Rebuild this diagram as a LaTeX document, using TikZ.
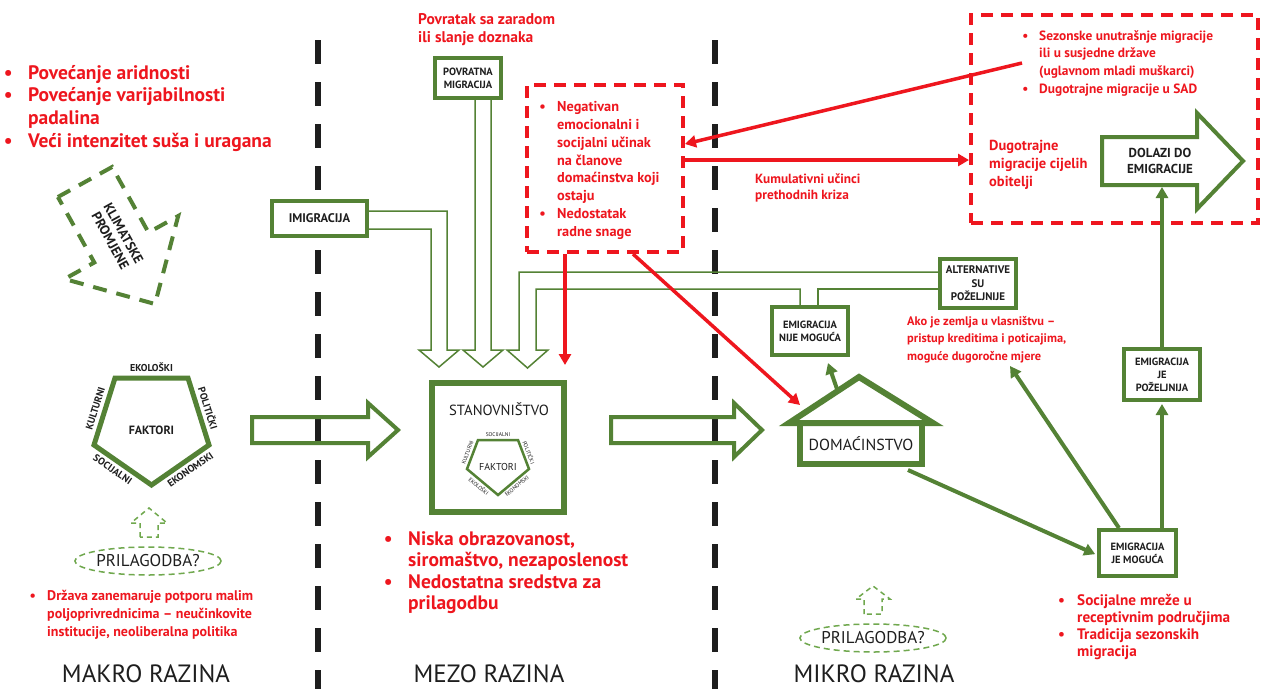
\documentclass[tikz,border=0pt]{standalone}
\usepackage{fontspec}
\setmainfont{PT Sans}
\usetikzlibrary{shapes.geometric,arrows.meta,calc}
\definecolor{G}{RGB}{84,130,53}
\definecolor{LG}{RGB}{112,168,78}
\definecolor{R}{RGB}{238,22,30}
\definecolor{K}{RGB}{30,30,30}
\newcommand\myfs[2]{\fontsize{#1}{#2}\selectfont}
\newcommand\bul{\llap{\textbullet\hspace{0.8em}}}
\begin{document}
\begin{tikzpicture}[x=1pt,y=-1pt,
  gbox/.style={draw=G, line width=4pt, fill=white, align=center, inner sep=0pt, text=K, font=\bfseries\myfs{10.5}{13}},
  redtxt/.style={text=R, align=left, inner sep=0pt, anchor=north west},
  lvl/.style={text=K, font=\myfs{25}{28}, inner sep=0pt},
  hollow/.style={draw=G, line width=1.5pt},
  garrow/.style={draw=G, line width=4pt, -{Triangle[length=11pt,width=12pt]}},
  rarrow/.style={draw=R, line width=3.5pt, -{Triangle[length=11pt,width=12pt]}},
  rdash/.style={draw=R, line width=4pt, dash pattern=on 12pt off 8pt},
  bdash/.style={draw=K, line width=6pt, dash pattern=on 24pt off 18pt},
  plab/.style={font=\bfseries\myfs{10}{11}, text=K, inner sep=3.5pt},
  slab/.style={font=\myfs{5.5}{6}, text=K, inner sep=2pt},
  pril/.style={ellipse, draw=LG, line width=1.5pt, dash pattern=on 6pt off 4pt, minimum width=128pt, minimum height=28pt, inner sep=0pt, font=\myfs{17}{19}, text=K},
  smallup/.style={draw=LG, line width=1.5pt, dash pattern=on 5pt off 4pt},
]
\useasboundingbox (0,0) rectangle (1264,689);
\fill[white] (0,0) rectangle (1264,689);

% level separators
\draw[bdash] (318,40) -- (318,689);
\draw[bdash] (715,40) -- (715,689);

% ---------------- MAKRO ----------------
\node[redtxt, font=\bfseries\myfs{19.5}{22.7}] (clim) at (28,65) {\bul Povećanje aridnosti\\ \bul Povećanje varijabilnosti\\ padalina\\ \bul Veći intenzitet suša i uragana};

\draw[G, line width=4pt, dash pattern=on 14pt off 10pt] (57.9,197) -- (112.1,167) -- (148.5,232.5) -- (178.2,216) -- (155,304) -- (64.6,279) -- (94.3,262.5) -- cycle;
\node[rotate=-61, align=center, text=K, font=\bfseries\myfs{13.5}{15}, inner sep=0pt] (klim) at (117,237) {KLIMATSKE\\PROMJENE};

\draw[G, line width=5pt, line join=miter] (115,378) -- node[plab, above]{EKOLOŠKI} (188,378) -- node[plab, sloped, above]{POLITIČKI} (209,445) -- node[plab, sloped, below, pos=0.42]{EKONOMSKI} (151.5,485) -- node[plab, sloped, below, pos=0.58]{SOCIJALNI} (94,445) -- node[plab, sloped, above]{KULTURNI} cycle;
\node[font=\bfseries\myfs{12}{14}, text=K] (fak) at (151.5,430) {FAKTORI};

\draw[smallup] (140,537) -- (140,523) -- (131,523) -- (149,508) -- (167,523) -- (158,523) -- (158,537) -- cycle;
\node[pril] (pril1) at (148,561) {PRILAGODBA?};
\node[redtxt, font=\bfseries\myfs{14}{18}] (drz) at (47,590) {\bul Država zanemaruje potporu malim\\ poljoprivrednicima – neučinkovite\\ institucije, neoliberalna politika};

\draw[G, line width=4pt, line join=miter] (252,417) -- (368,417) -- (368,403) -- (398,430) -- (368,457) -- (368,443) -- (252,443) -- cycle;

\node[lvl] (makro) at (146,674) {MAKRO RAZINA};
\node[lvl] (mezo) at (489,674) {MEZO RAZINA};
\node[lvl] (mikro) at (874,674) {MIKRO RAZINA};

% ---------------- MEZO ----------------
\node[gbox, font=\bfseries\myfs{12.5}{14}, minimum width=95pt, minimum height=35pt] (imig) at (319.5,218.5) {IMIGRACIJA};
\node[gbox, minimum width=66pt, minimum height=40pt] (pov) at (468,78) {POVRATNA\\MIGRACIJA};
\node[redtxt, font=\bfseries\myfs{15.5}{18}] (povtxt) at (418,13) {Povratak sa zaradom\\ili slanje doznaka};

\node[gbox, font=\bfseries\myfs{11}{13.5}, minimum width=76pt, minimum height=49pt] (alt) at (978,283.5) {ALTERNATIVE\\SU\\POŽELJNIJE};
\node[gbox, minimum width=76pt, minimum height=48pt] (nije) at (810,331) {EMIGRACIJA\\NIJE MOGUĆA};

\draw[hollow] (imig.east |- 0,211) -- (447,211) -- (447,350) -- (459,350) -- (439,367) -- (419,350) -- (431,350) -- (431,229) -- (imig.east |- 0,229);
\draw[hollow] (pov.south -| 475,0) -- (475,350) -- (463,350) -- (483,367) -- (503,350) -- (491,350) -- (pov.south -| 491,0);
\draw[hollow] (alt.west |- 0,272) -- (519,272) -- (519,350) -- (507,350) -- (527.5,368) -- (548,350) -- (536,350) -- (536,289) -- (800,289) -- (nije.north -| 800,0);
\draw[hollow] (nije.north -| 818,0) -- (818,289) -- (alt.west |- 0,289);

\node[rdash, minimum width=156pt, minimum height=167pt, inner sep=0pt] (negbox) at (605,168.5) {};
\node[redtxt, font=\bfseries\myfs{14.3}{17.9}] (negtxt) at (557,101) {\bul Negativan\\ emocionalni i\\ socijalni učinak\\ na članove\\ domaćinstva koji\\ ostaju\\ \bul Nedostatak\\ radne snage};

\node[draw=G, line width=6pt, fill=white, minimum width=132pt, minimum height=129pt, inner sep=0pt] (stan) at (498,447.5) {};
\node[font=\myfs{14.7}{16}, text=K] (stantxt) at (499,409) {STANOVNIŠTVO};
\draw[G, line width=2.5pt] (478,440) -- node[slab, above]{SOCIJALNI} (518,440) -- node[slab, sloped, above]{POLITIČKI} (529,469) -- node[slab, sloped, below]{EKONOMSKI} (498,495) -- node[slab, sloped, below]{EKOLOŠKI} (467,469) -- node[slab, sloped, above]{KULTURNI} cycle;
\node[font=\myfs{10}{12}, text=K] (fak2) at (498,467) {FAKTORI};

\node[redtxt, font=\bfseries\myfs{19.5}{21.6}] (nisk) at (408,531) {\bul Niska obrazovanost,\\ siromaštvo, nezaposlenost\\ \bul Nedostatna sredstva za\\ prilagodbu};

\draw[G, line width=4pt, line join=miter] (611,417) -- (734,417) -- (734,403) -- (762,430) -- (734,457) -- (734,443) -- (611,443) -- cycle;

% ---------------- MIKRO ----------------
\node[rdash, minimum width=287pt, minimum height=208pt, inner sep=0pt] (topbox) at (1114.5,119) {};
\node[redtxt, font=\bfseries\myfs{13.4}{17.7}] (sez) at (1039,30) {\bul Sezonske unutrašnje migracije\\ ili u susjedne države\\ (uglavnom mladi muškarci)\\ \bul Dugotrajne migracije u SAD};
\node[redtxt, font=\bfseries\myfs{14.5}{18}] (dug) at (989,140) {Dugotrajne\\ migracije cijelih\\ obitelji};

\draw[G, line width=4pt, line join=miter, fill=white] (1102,137) -- (1197,137) -- (1197,113) -- (1243,161) -- (1197,209) -- (1197,185) -- (1102,185) -- cycle;
\node[font=\bfseries\myfs{13}{16}, text=K, align=center] (dol) at (1160,161) {DOLAZI DO\\EMIGRACIJE};
\coordinate (dolbot) at (1162,187);

\node[redtxt, font=\bfseries\myfs{13.3}{16}] (kum) at (755,174) {Kumulativni učinci\\prethodnih kriza};
\node[redtxt, font=\bfseries\myfs{12.4}{17.5}] (ako) at (907,316) {Ako je zemlja u vlasništvu –\\ pristup kreditima i poticajima,\\ moguće dugoročne mjere};
\coordinate (akotip) at (1010,366);

\node[draw=G, line width=6pt, fill=white, minimum width=122pt, minimum height=41pt, inner sep=0pt, font=\myfs{16}{18}, text=K] (dom) at (861,443.5) {DOMAĆINSTVO};
\draw[G, line width=6pt, line join=miter, fill=white] (789,423) -- (859,377) -- (933,423) -- cycle;
\coordinate (roofpt) at (837,389);
\coordinate (roofL) at (800,405);

\node[gbox, minimum width=76pt, minimum height=51pt] (pozel) at (1162,374.5) {EMIGRACIJA\\JE\\POŽELJNIJA};
\node[gbox, minimum width=77pt, minimum height=46pt] (jem) at (1137.5,553) {EMIGRACIJA\\JE MOGUĆA};

\node[redtxt, font=\bfseries\myfs{15.2}{17}] (soc) at (1077,594) {\bul Socijalne mreže u\\ receptivnim područjima\\ \bul Tradicija sezonskih\\ migracija};

\draw[smallup] (864,614) -- (864,599) -- (856,599) -- (873,586) -- (890,599) -- (882,599) -- (882,614) -- cycle;
\node[pril] (pril2) at (873,638) {PRILAGODBA?};

% green arrows
\draw[garrow] (roofpt) -- ($(nije.south)+(18,6)$);
\draw[garrow, shorten >=2pt] ($(dom.south east)+(-17,3)$) -- (jem.west |- 0,555);
\draw[garrow] ($(jem.north west)+(22,0)$) -- (akotip);
\draw[garrow, shorten >=2pt] (jem.north -| pozel.south) -- (pozel.south);
\draw[garrow] (pozel.north) -- (dolbot);

% red arrows
\coordinate (r1s) at (1022,63);
\draw[rarrow] (r1s) -- (negbox.east |- 0,144);
\draw[rarrow] (negbox.east |- 0,160) -- (topbox.west |- 0,160);
\draw[rarrow, shorten >=15pt] (negbox.south -| 565,0) -- (stan.north -| 565,0);
\draw[rarrow] (negbox.south -| 633,0) -- (roofL);
\end{tikzpicture}
\end{document}
